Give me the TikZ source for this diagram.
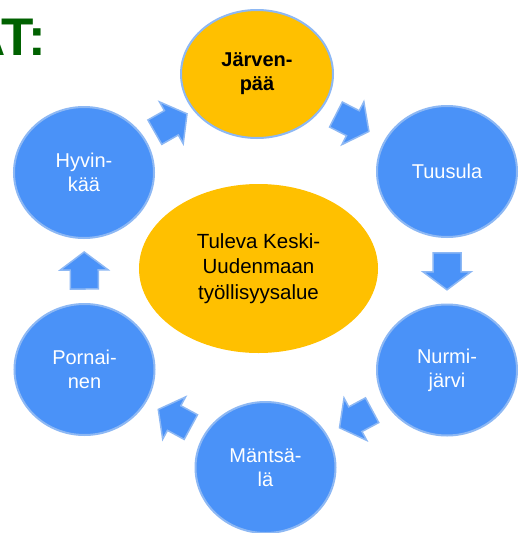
\documentclass[tikz,border=0pt]{standalone}
\usepackage{fontspec}
\setmainfont{Liberation Sans}
\usetikzlibrary{shapes.geometric,calc}
\definecolor{cblue}{HTML}{4A92F8}
\definecolor{cline}{HTML}{8DB8F4}
\definecolor{corange}{HTML}{FFC000}
\definecolor{cgreen}{HTML}{006100}
\newcommand\cyclearrow[2]{%
  \path let \p1=(#1), \p2=(#2), \n1={atan2(\y2-\y1,\x2-\x1)} in
    \pgfextra{\xdef\cycang{\n1}};
  \draw[cycarrow, shift={($(#1)!0.5!(#2)$)}, rotate=\cycang]
    (-18,-14) -- (1,-14) -- (1,-24) -- (19,0) -- (1,24) -- (1,14) -- (-18,14) -- cycle;
}
\begin{document}
\begin{tikzpicture}[x=1pt,y=-1pt,
  town/.style={ellipse, draw=cline, line width=2pt, fill=cblue, text=white,
    inner sep=0pt, align=center, font=\fontsize{20}{24}\selectfont,
    minimum width=140, minimum height=131},
  topnode/.style={ellipse, draw=cline, line width=2pt, fill=corange, text=black,
    inner sep=0pt, align=center, font=\fontsize{20}{24}\selectfont\bfseries,
    minimum width=152, minimum height=128},
  hub/.style={ellipse, fill=corange, text=black, inner sep=0pt, align=center,
    font=\fontsize{20.5}{25.5}\selectfont, minimum width=239, minimum height=169},
  cycarrow/.style={fill=cblue, draw=cline, line width=1.5pt, line join=miter},
  titletext/.style={font=\fontsize{53}{53}\selectfont\bfseries, text=cgreen, inner sep=0pt}
]
\useasboundingbox (0,0) rectangle (525,533);
\fill[white] (0,0) rectangle (525,533);

\node[titletext, anchor=base east] (title) at (46,55) {AT:};

\node[hub] (hub) at (258.5,268.5) {Tuleva Keski-\\Uudenmaan\\työllisyysalue};

\node[topnode] (jar) at (257,74) {Järven-\\pää};
\node[town] (tuu) at (447,171.5) {Tuusula};
\node[town] (nur) at (447,370) {Nurmi-\\järvi};
\node[town] (man) at (265.5,467.5) {Mäntsä-\\lä};
\node[town] (por) at (84.5,369.5) {Pornai-\\nen};
\node[town] (hyv) at (84,172.5) {Hyvin-\\kää};

\cyclearrow{hyv}{jar}
\cyclearrow{jar}{tuu}
\cyclearrow{tuu}{nur}
\cyclearrow{nur}{man}
\cyclearrow{man}{por}
\cyclearrow{por}{hyv}
\end{tikzpicture}
\end{document}
